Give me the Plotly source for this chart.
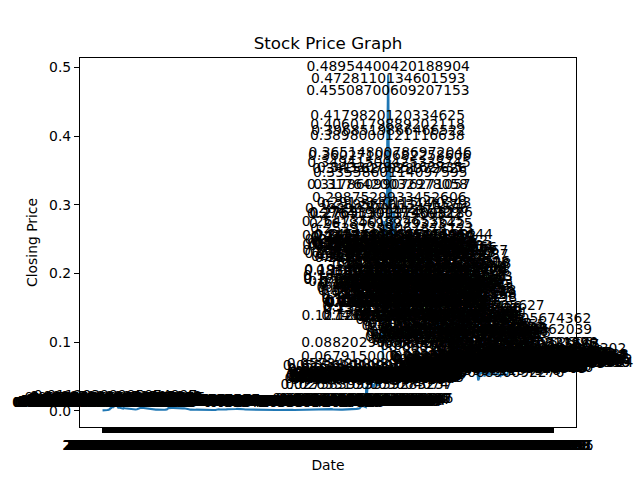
import numpy as np
import pandas as pd
import plotly.graph_objects as go

# ---- data: closing prices ----
# every 2 days from 2017-11-09
seg1a_start = "2017-11-09"
seg1a_vals = [
    0.000954, 0.000912, 0.000893, 0.000921, 0.000944, 0.000967, 0.001003, 0.001051,
    0.001167, 0.001326, 0.001482,
    0.001503, 0.001624, 0.001652, 0.001694, 0.001812, 0.002503, 0.003712, 0.003436,
    0.004105, 0.005736, 0.005214, 0.004826, 0.005392, 0.006489, 0.006218, 0.006653,
    0.006904, 0.007812, 0.011294, 0.009873, 0.008214, 0.007347, 0.006021, 0.005621,
    0.004897, 0.005263, 0.005018, 0.004592, 0.004173, 0.003846, 0.003903,
    0.003612, 0.003127, 0.003174, 0.003058, 0.003421, 0.004281, 0.004563, 0.004127,
    0.003905, 0.003781, 0.003692, 0.003538, 0.003614, 0.003868,
    0.003642,
]

# weekly from 2018-03-08
seg1b_start = "2018-03-08"
seg1b_vals = [
    # 2018
    0.002903, 0.002471, 0.002394, 0.002158,
    0.002175, 0.002537, 0.003823, 0.004296,
    0.004652, 0.004314, 0.003629, 0.003106, 0.002941,
    0.002853, 0.002514, 0.002287, 0.001894,
    0.002018, 0.002176, 0.002364, 0.002512,
    0.002237, 0.001913, 0.001965, 0.002104, 0.004126,
    0.004618, 0.004275, 0.004393, 0.004486,
    0.004307, 0.003934, 0.003921, 0.003827,
    0.003856, 0.003903, 0.003124, 0.002279, 0.002416,
    0.001918, 0.001602, 0.002036, 0.001865,
    # 2019
    0.001942, 0.001807, 0.001823, 0.001794, 0.001612,
    0.001536, 0.001597, 0.001642, 0.001561,
    0.001559, 0.001528, 0.001543, 0.001538,
    0.002283, 0.002405, 0.002136, 0.001957,
    0.001928, 0.002041, 0.002351, 0.002519, 0.002389,
    0.002436, 0.002378, 0.002621, 0.002824,
    0.003091, 0.002684, 0.002518, 0.002379,
    0.002485, 0.002263, 0.002174, 0.002163, 0.002112,
    0.002027, 0.002036, 0.001986, 0.001732,
    0.001951, 0.002063, 0.002117, 0.002216, 0.002043,
    0.002104, 0.001958, 0.001726, 0.001754,
    0.001726, 0.001708, 0.001564, 0.001549,
    # 2020
    0.001541, 0.001623, 0.001796, 0.001712, 0.001827,
    0.002049, 0.002381, 0.002185, 0.001938,
    0.001887, 0.001342, 0.001424, 0.001514,
    0.001582, 0.001645, 0.001573, 0.001622, 0.001784,
    0.002009, 0.001983, 0.002031, 0.002096,
    0.002064, 0.001981, 0.002009, 0.001972,
    0.001958, 0.002912, 0.002593, 0.002431, 0.002572,
    0.002484, 0.002562, 0.002741, 0.002728,
    0.002398, 0.002117, 0.002235, 0.002094,
    0.002054, 0.001956, 0.001983, 0.002018, 0.001971,
    0.002021, 0.001958, 0.002364, 0.002647,
    0.002532, 0.002426, 0.003134, 0.003398, 0.003841,
    # 2021
    0.006612, 0.007123, 0.006356,
]

# every 2 days from 2021-01-23
seg1c_start = "2021-01-23"
seg1c_vals = [
    0.006012, 0.006178, 0.005463, 0.035612, 0.027584,
    0.026331, 0.033564, 0.041278, 0.057342, 0.055261, 0.050126, 0.048093, 0.043917,
    0.042018, 0.043725, 0.038164, 0.038472, 0.036402, 0.036917,
    0.035168, 0.035961, 0.036782, 0.038915, 0.040713, 0.042561, 0.041239, 0.041826,
    0.040352, 0.038594, 0.036584, 0.037812, 0.038476, 0.039581, 0.041026,
    0.041567, 0.043912, 0.045368, 0.044318,
]

# daily from 2021-04-09 (the spike)
seg2_start = "2021-04-09"
seg2_vals = [
    0.043125, 0.044012, 0.045289, 0.052871, 0.067915, 0.088203, 0.127483,
    0.264735, 0.243178, 0.221945, 0.230611, 0.276419, 0.231642, 0.185316,
    0.179527, 0.181394, 0.177218, 0.193054, 0.194461, 0.229817, 0.218046,
    0.238512,
    0.282907, 0.276514, 0.389800, 0.406018, 0.417982, 0.455087, 0.489544,
    0.472811, 0.396852, 0.317861, 0.349415, 0.298753, 0.341562, 0.360271,
    0.343208, 0.365148, 0.335586, 0.317642, 0.261847, 0.276935, 0.245163,
    0.237419, 0.211628, 0.253974, 0.241786, 0.240317, 0.234905, 0.213642,
    0.216381, 0.219074, 0.233628,
    0.232715, 0.291384, 0.289561,
]

# every 2 days from 2021-06-05
seg3a_start = "2021-06-05"
seg3a_vals = [
    0.244329, 0.233192, 0.228641, 0.221508, 0.232415, 0.226873, 0.214728, 0.192356,
    0.167412, 0.126894, 0.151327, 0.163218, 0.171864,
    0.176483, 0.175216, 0.173542, 0.168319, 0.164927, 0.157604, 0.150481, 0.146372,
    0.142561, 0.135928, 0.128073, 0.139415, 0.147912, 0.146083, 0.145962, 0.148735,
    0.146215, 0.147318, 0.161724, 0.189254, 0.201563, 0.213671, 0.229418, 0.236984,
    0.244871, 0.228136, 0.213507, 0.219354, 0.208964, 0.202387, 0.215964,
    0.218452, 0.222573, 0.226014, 0.173816, 0.178395, 0.176034, 0.172215, 0.168932,
    0.155241, 0.153418, 0.147326, 0.149518, 0.146973, 0.152864, 0.149106,
    0.166237, 0.178564, 0.181927, 0.167825, 0.168472, 0.175618, 0.174306, 0.180352,
    0.183519, 0.198245, 0.193762, 0.185014, 0.221742, 0.215863, 0.198427, 0.204156,
    0.205372, 0.193528, 0.196213, 0.202816, 0.197534, 0.191476, 0.184259, 0.178342,
    0.172687, 0.166427, 0.165918, 0.162735, 0.158394, 0.161273, 0.163482,
    0.158216, 0.153207, 0.127538, 0.131942, 0.127156, 0.121682, 0.125734, 0.128463,
    0.124915, 0.130762, 0.137926, 0.140582, 0.138217, 0.132694, 0.126418,
]

# every 4 days, ending 2023-05-15
seg3b_end = "2023-05-15"
seg3b_vals = [
    # 2022
    0.125734, 0.112537, 0.118846, 0.131264, 0.110893, 0.097253, 0.101367,
    0.104325, 0.116042, 0.115268, 0.103521, 0.099874, 0.090358, 0.094712,
    0.099312, 0.093816, 0.086217, 0.083561, 0.087432, 0.095168, 0.102874, 0.107634,
    0.109412, 0.142126, 0.114893, 0.108531, 0.107963, 0.104517, 0.101635, 0.105834,
    0.103218, 0.080163, 0.069852, 0.068417, 0.066925, 0.065293, 0.064128,
    0.063715, 0.062834, 0.057206, 0.044516, 0.047383, 0.054723, 0.056318, 0.054902,
    0.055236, 0.056128, 0.051437, 0.051863, 0.054871, 0.058924, 0.051276, 0.054103,
    0.053264, 0.057184, 0.059342, 0.064395, 0.056817, 0.052976, 0.052681,
    0.053615, 0.053725, 0.054864, 0.053128, 0.052407, 0.050812, 0.053926, 0.051743,
    0.054197, 0.054526, 0.053102, 0.052374, 0.051903, 0.054633, 0.068527, 0.122653,
    0.107341, 0.087346, 0.078215, 0.072814, 0.069517, 0.075108, 0.086438,
    0.087942, 0.084721, 0.079536, 0.075263, 0.063417, 0.062419, 0.059862, 0.058731,
    # 2023
    0.057394, 0.059215, 0.062381, 0.068415, 0.067629, 0.072316, 0.073174, 0.074062,
    0.075826, 0.073521, 0.066843, 0.071964, 0.070418, 0.066275, 0.067892,
    0.061347, 0.059628, 0.062285, 0.061873, 0.060716, 0.061394, 0.059834,
    0.063052, 0.078916, 0.069437, 0.067348, 0.070124, 0.065183, 0.063218, 0.064107,
    0.063042, 0.058637, 0.058912, 0.058524,
]

y_ticks = [0.0, 0.1, 0.2, 0.3, 0.4, 0.5]
y_tick_labels = ["0.0", "0.1", "0.2", "0.3", "0.4", "0.5"]

# ---- build ----
dates = (list(pd.date_range(seg1a_start, periods=len(seg1a_vals), freq="2D"))
         + list(pd.date_range(seg1b_start, periods=len(seg1b_vals), freq="7D"))
         + list(pd.date_range(seg1c_start, periods=len(seg1c_vals), freq="2D"))
         + list(pd.date_range(seg2_start, periods=len(seg2_vals), freq="D"))
         + list(pd.date_range(seg3a_start, periods=len(seg3a_vals), freq="2D"))
         + list(pd.date_range(end=seg3b_end, periods=len(seg3b_vals), freq="4D")))
closes = seg1a_vals + seg1b_vals + seg1c_vals + seg2_vals + seg3a_vals + seg3b_vals
labels = [str(float(np.float32(v))) for v in closes]
tick_labels = [d.strftime("%Y-%m-%d") for d in dates]

span = dates[-1] - dates[0]
x_range = [dates[0] - span * 0.05, dates[-1] + span * 0.05]

FONT = "DejaVu Sans"

fig = go.Figure()
fig.add_trace(go.Scatter(
    x=dates, y=closes, mode="lines+text", text=labels,
    textposition="top center",
    textfont=dict(family=FONT, size=13.9, color="black"),
    line=dict(color="#1f77b4", width=2.1),
    marker=dict(size=0),
    cliponaxis=False, showlegend=False, hoverinfo="skip",
))

fig.update_layout(
    width=640, height=480,
    margin=dict(l=80, r=64, t=58, b=53, pad=0, autoexpand=False),
    paper_bgcolor="white", plot_bgcolor="white",
    font=dict(family=FONT, size=13.9, color="black"),
    title=dict(text="Stock Price Graph", x=0.5125, xanchor="center",
               y=1 - 43 / 480, yanchor="middle", yref="container",
               font=dict(family=FONT, size=16.7, color="black")),
    showlegend=False,
)
fig.update_xaxes(
    type="date", range=x_range, automargin=False,
    tickmode="array", tickvals=dates, ticktext=tick_labels, tickangle=0,
    ticks="outside", ticklen=5, tickwidth=2, tickcolor="black",
    tickfont=dict(family=FONT, size=13.9, color="black"),
    showgrid=False, zeroline=False,
    showline=True, mirror=True, linecolor="black", linewidth=1.1,
    title=dict(text="Date", font=dict(family=FONT, size=13.9, color="black"), standoff=8),
)
fig.update_yaxes(
    range=[-0.0233, 0.5138], automargin=False,
    tickmode="array", tickvals=y_ticks, ticktext=y_tick_labels,
    ticks="outside", ticklen=5, tickwidth=1.1, tickcolor="black",
    tickfont=dict(family=FONT, size=13.9, color="black"),
    showgrid=False, zeroline=False,
    showline=True, mirror=True, linecolor="black", linewidth=1.1,
    title=dict(text="Closing Price", font=dict(family=FONT, size=13.9, color="black"), standoff=8),
)

fig.write_html("out.html", config={"displayModeBar": False})

# remove the browser's default page margin so the figure sits at (0, 0)
with open("out.html", encoding="utf-8") as f:
    page = f.read()
page = page.replace("<head>", "<head><style>html,body{margin:0;padding:0;overflow:hidden;}</style>", 1)
with open("out.html", "w", encoding="utf-8") as f:
    f.write(page)
